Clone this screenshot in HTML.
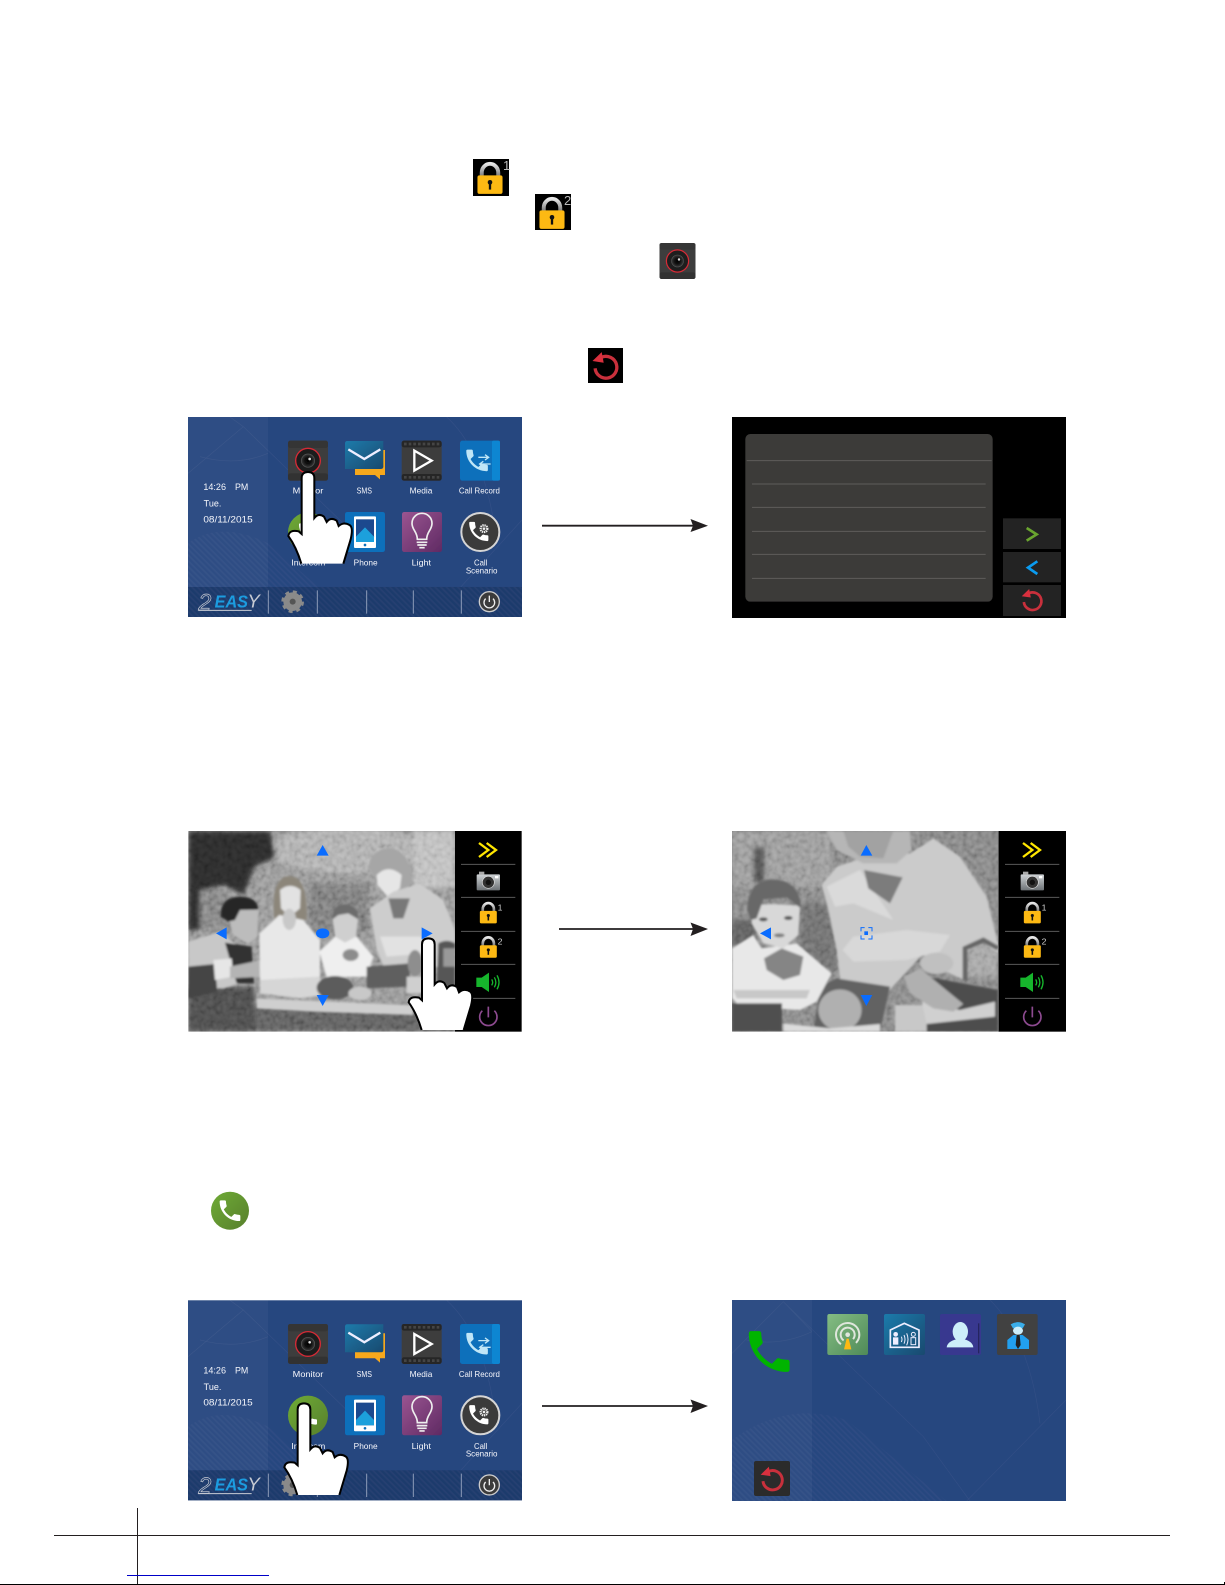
<!DOCTYPE html>
<html><head><meta charset="utf-8"><style>html,body{margin:0;padding:0;background:#fff}svg{display:block}text{font-family:"Liberation Sans",sans-serif}</style></head><body>
<svg width="1225" height="1585" viewBox="0 0 1225 1585">
<defs>
<linearGradient id="shk" x1="0" y1="0" x2="0" y2="1"><stop offset="0" stop-color="#e8e8e8"/><stop offset="1" stop-color="#707070"/></linearGradient>
<linearGradient id="grn" x1="0" y1="0" x2="1" y2="1"><stop offset="0" stop-color="#6fab36"/><stop offset="1" stop-color="#577f2c"/></linearGradient>
<linearGradient id="cm" x1="0" y1="0" x2="0" y2="1"><stop offset="0" stop-color="#cfd3d6"/><stop offset="1" stop-color="#6d7276"/></linearGradient>
<linearGradient id="tl" x1="0" y1="0" x2="1" y2="1"><stop offset="0" stop-color="#1b7bab"/><stop offset="1" stop-color="#19496f"/></linearGradient>
<linearGradient id="pu" x1="0" y1="0" x2="1" y2="1"><stop offset="0" stop-color="#9a5591"/><stop offset="1" stop-color="#5f2a63"/></linearGradient>
<linearGradient id="gr2" x1="0" y1="0" x2="1" y2="1"><stop offset="0" stop-color="#84bd83"/><stop offset="1" stop-color="#4f8a58"/></linearGradient>
<radialGradient id="lens"><stop offset="0" stop-color="#000"/><stop offset=".5" stop-color="#111"/><stop offset="1" stop-color="#3a3a3a"/></radialGradient>
<pattern id="hatch" width="12" height="12" patternUnits="userSpaceOnUse" patternTransform="rotate(45)"><rect width="12" height="5" fill="#fff" opacity=".03"/></pattern>
<filter id="b" x="-5%" y="-5%" width="110%" height="110%"><feGaussianBlur stdDeviation="7"/></filter>
<filter id="p" x="-2%" y="-2%" width="104%" height="104%"><feGaussianBlur stdDeviation="3.500"/></filter>
<filter id="s" x="-2%" y="-2%" width="104%" height="104%"><feGaussianBlur stdDeviation="1"/></filter>
<filter id="n" x="0" y="0" width="100%" height="100%"><feTurbulence type="fractalNoise" baseFrequency=".07" numOctaves="2" seed="4"/><feColorMatrix values="1.4 0 0 0 -.2 1.4 0 0 0 -.2 1.4 0 0 0 -.2 0 0 0 0 1"/><feGaussianBlur stdDeviation="2.500"/></filter>
<clipPath id="c3"><rect x="25" y="33" width="800" height="602"/></clipPath>
<clipPath id="c4"><rect x="36" y="33" width="798" height="602"/></clipPath>

<path id="ph" d="M6.6 10.8c1.4 2.8 3.8 5.1 6.6 6.6l2.2-2.2c.3-.3.7-.4 1-.2 1.1.4 2.3.6 3.6.6.6 0 1 .4 1 1V20c0 .6-.4 1-1 1C10.6 21 3 13.4 3 4c0-.6.4-1 1-1h3.5c.6 0 1 .4 1 1 0 1.3.2 2.5.6 3.6.1.3 0 .7-.2 1z"/>

<g id="hand"><path d="M-20,275 Q-35,225 -59,192 Q-56,172 -28,178 L-19,186 L-19,18 Q-19,0 0,0 Q19,0 19,18 L19,138 Q32,122 48,134 L56,150 Q68,134 86,146 L92,162 Q108,148 126,160 Q136,168 128,202 L106,275" fill="#fff" stroke="#000" stroke-width="6"/></g>

<g id="lock"><path d="M-25,-8 V-22 A25,27 0 0 1 25,-22 V-8" fill="none" stroke="url(#shk)" stroke-width="12"/><rect x="-38" y="-14" width="76" height="56" rx="6" fill="#fdb913"/><circle cy="7" r="7" fill="#111"/><rect x="-3.500" y="7" width="7" height="22" fill="#111"/></g>

<g id="back"><path d="M-12,-30 A33,33 0 1 1 -33,4" fill="none" stroke="#c9303c" stroke-width="10"/><path d="M-41,-18 L-13,-45 L-7,-13 Z" fill="#d9303e"/></g>

<g id="cam"><rect x="-60" y="-60" width="120" height="120" rx="7" fill="#3d3d3d"/><rect x="-60" y="-60" width="120" height="22" rx="7" fill="#363636"/><rect x="-60" y="38" width="120" height="22" rx="7" fill="#323232"/><circle r="37" fill="#1e1e1e" stroke="#d62a36" stroke-width="4"/><circle r="20" fill="url(#lens)" stroke="#555" stroke-width="2"/><circle cx="5" cy="-5" r="4" fill="#ddd"/></g>

<g id="menu"><g filter="url(#s)">
<rect x="24" y="21" width="1002" height="600" fill="#27467f"/>
<rect x="24" y="21" width="240" height="510" fill="#fff" opacity=".04"/>
<path d="M24,620 L24,400 Q120,330 264,400 L520,621 Z" fill="url(#hatch)"/>
<path d="M24,190 L190,50 L500,350 M190,50 L150,21 M60,140 Q170,170 264,130 M1026,330 L760,621 M800,21 Q920,130 950,400" fill="none" stroke="#fff" stroke-width="2" opacity=".06"/>
<rect x="24" y="531" width="1002" height="90" fill="#1e3a6c"/>
<rect x="24" y="531" width="1002" height="90" fill="url(#hatch)"/>
<g stroke="#8c9bb8" stroke-width="3"><path d="M265,541V611M412,541V611M560,541V611M700,541V611M844,541V611"/></g>
<g font-size="28" fill="#f4f6fb">
<text x="70" y="240" textLength="68" lengthAdjust="spacingAndGlyphs">14:26</text><text x="165" y="240" textLength="40" lengthAdjust="spacingAndGlyphs">PM</text>
<text x="71" y="290" textLength="53" lengthAdjust="spacingAndGlyphs">Tue.</text><text x="70" y="337" textLength="148" lengthAdjust="spacingAndGlyphs">08/11/2015</text></g>
<use href="#cam" x="384" y="152"/>
<path d="M525,120H615V195H600V208L585,195H525Z" fill="#f6a81c"/>
<path d="M495,100Q495,93 502,93H610V170Q610,177 603,177H495Z" fill="url(#tl)"/>
<path d="M505,118L553,147L601,118" fill="none" stroke="#eef" stroke-width="7"/>
<rect x="665" y="92" width="120" height="120" rx="7" fill="#3c3c3c"/><rect x="665" y="92" width="120" height="20" rx="7" fill="#262626"/><rect x="665" y="192" width="120" height="20" rx="7" fill="#262626"/>
<path d="M672,102H778M672,202H778" stroke="#444" stroke-width="8" stroke-dasharray="8 6"/>
<path d="M703,122L755,152L703,182Z" fill="none" stroke="#fff" stroke-width="7"/>
<rect x="840" y="92" width="120" height="120" rx="7" fill="#0a6fbb"/><rect x="936" y="92" width="24" height="120" rx="5" fill="#0b86d2"/>
<use href="#ph" fill="#bfe6f7" transform="translate(848,108) scale(3.6)"/>
<path d="M895,142H925M915,134L926,142L915,150M932,162H900M910,154L899,162L910,170" fill="none" stroke="#bfe6f7" stroke-width="4"/>
<circle cx="384" cy="367" r="60" fill="url(#grn)"/><use href="#ph" fill="#fff" transform="translate(348,331) scale(3)"/>
<rect x="495" y="306" width="120" height="120" rx="7" fill="#0a6fbb"/><rect x="522" y="319" width="66" height="95" rx="3" fill="#fff"/><rect x="528" y="328" width="54" height="68" fill="#1c4a8e"/><path d="M528,396V380L555,352L582,380V396Z" fill="#1aa0dc"/><circle cx="555" cy="405" r="4" fill="#0a6fbb"/>
<rect x="666" y="306" width="120" height="120" rx="7" fill="url(#pu)"/>
<path d="M712,388C712,365 696,360 696,340A30,30 0 0 1 756,340C756,360 740,365 740,388Z" fill="none" stroke="#eee" stroke-width="5"/><path d="M710,397H742M712,405H740M718,413H734" stroke="#eee" stroke-width="5"/>
<circle cx="901" cy="366" r="57" fill="#3a3a3a" stroke="#d5d5d5" stroke-width="6"/><use href="#ph" fill="#fff" transform="translate(858,326) scale(3.2)"/><circle cx="912" cy="356" r="10" fill="none" stroke="#eee" stroke-width="7" stroke-dasharray="4 2"/><circle cx="912" cy="356" r="4" fill="#eee"/>
<g fill="#f4f6fb" font-size="25" text-anchor="middle"><text x="384" y="251" textLength="92" lengthAdjust="spacingAndGlyphs">Monitor</text><text x="553" y="251" textLength="46" lengthAdjust="spacingAndGlyphs">SMS</text><text x="723" y="251" textLength="68" lengthAdjust="spacingAndGlyphs">Media</text><text x="898" y="251" textLength="123" lengthAdjust="spacingAndGlyphs">Call Record</text>
<text x="385" y="467" textLength="102" lengthAdjust="spacingAndGlyphs">Intercom</text><text x="557" y="467" textLength="72" lengthAdjust="spacingAndGlyphs">Phone</text><text x="724" y="467" textLength="58" lengthAdjust="spacingAndGlyphs">Light</text><text x="902" y="467" textLength="40" lengthAdjust="spacingAndGlyphs">Call</text><text x="905" y="490" textLength="95" lengthAdjust="spacingAndGlyphs">Scenario</text></g>
<text x="55" y="600" font-size="70" font-style="italic" fill="none" stroke="#c8ccd4" stroke-width="2">2</text>
<text x="104" y="592" font-size="54" font-style="italic" font-weight="bold" fill="#1b9ce0" textLength="100" lengthAdjust="spacingAndGlyphs">EAS</text>
<text x="202" y="592" font-size="56" font-style="italic" fill="#c8ccd4">Y</text>
<path d="M55,601H215" stroke="#c8ccd4" stroke-width="3"/>
<circle cx="338" cy="575" r="24" fill="#8a8a8a" stroke="#8a8a8a" stroke-width="8"/><circle cx="338" cy="575" r="30" fill="none" stroke="#8a8a8a" stroke-width="8" stroke-dasharray="12 11.500"/><circle cx="338" cy="575" r="9" fill="#555"/>
<circle cx="928" cy="575" r="30" fill="#3a3a3a" stroke="#ccc" stroke-width="4"/><path d="M917,566A16,16 0 1 0 939,566M928,557V576" fill="none" stroke="#eee" stroke-width="4"/>
</g></g>

<g id="panel">
<path d="M843,133H1006M843,232H1006M843,334H1006M843,433H1006M843,535H1006" stroke="#5a5a5a" stroke-width="3"/>
<path d="M897,69L925,90L897,111M920,69L948,90L920,111" fill="none" stroke="#ffe600" stroke-width="7"/>
<rect x="890" y="163" width="70" height="48" rx="3" fill="url(#cm)"/><rect x="897" y="155" width="16" height="9" fill="#aaa"/><circle cx="925" cy="187" r="18" fill="#333" stroke="#ddd" stroke-width="2"/><circle cx="925" cy="187" r="8" fill="#111"/><rect x="945" y="168" width="10" height="7" fill="#fff"/>
<use href="#lock" transform="translate(925,282) scale(.67)"/><text x="953" y="272" font-size="26" fill="#ccc">1</text>
<use href="#lock" transform="translate(925,385) scale(.67)"/><text x="953" y="374" font-size="26" fill="#ccc">2</text>
<path d="M889,473H905L927,458V516L905,501H889Z" fill="#16b52c"/><path d="M935,478Q941,487 935,496M943,472Q952,487 943,502M951,466Q963,487 951,508" fill="none" stroke="#16b52c" stroke-width="4"/>
<path d="M907,572A26,26 0 1 0 943,572M925,560V592" fill="none" stroke="#8d4a90" stroke-width="5"/>
</g>
</defs>

<!-- top inline icons -->
<rect x="473" y="159" width="36" height="37" fill="#000"/><use href="#lock" transform="translate(490,180) scale(.33)"/>
<text x="503" y="170" font-size="13" fill="#bbb">1</text>
<rect x="535" y="194" width="36" height="36" fill="#000"/><use href="#lock" transform="translate(552,215) scale(.33)"/>
<text x="564" y="205" font-size="13" fill="#bbb">2</text>
<use href="#cam" transform="translate(677.500,261) scale(.3)"/>
<rect x="588" y="348" width="35" height="35" fill="#000"/><use href="#back" transform="translate(606,367) scale(.33)"/>

<!-- Screen 1 -->
<g transform="translate(180,410) scale(.33333)"><use href="#menu"/><use href="#hand" x="384" y="186"/></g>

<!-- Screen 2 -->
<g transform="translate(720,410) scale(.33333)">
<rect x="36" y="21" width="1002" height="603" fill="#000"/>
<rect x="76" y="72" width="742" height="503" rx="15" fill="#3c3b39"/>
<path d="M80,152H815M96,222H797M96,292H797M96,364H797M96,433H797M96,505H797" stroke="#5e5d5b" stroke-width="3"/>
<rect x="849" y="325" width="174" height="92" fill="#232323"/><rect x="849" y="426" width="174" height="91" fill="#232323"/><rect x="849" y="525" width="174" height="93" fill="#232323"/>
<path d="M920,354L950,373L920,392" fill="none" stroke="#6aa52f" stroke-width="8"/>
<path d="M952,454L924,473L952,492" fill="none" stroke="#0a9bf0" stroke-width="8"/>
<use href="#back" transform="translate(938,573) scale(.8)"/>
</g>

<!-- Arrows -->
<g fill="#231f20"><path d="M542,525.700H695" stroke="#231f20" stroke-width="1.800"/><path d="M690.500,519L708,525.700L690.500,532L693,525.700Z"/>
<path d="M559,929H695" stroke="#231f20" stroke-width="1.800"/><path d="M690.500,922.500L708,929L690.500,936L693,929Z"/>
<path d="M542,1406H695" stroke="#231f20" stroke-width="1.800"/><path d="M690.500,1399.500L708,1406L690.500,1413L693,1406Z"/></g>

<!-- Screen 3 -->
<g transform="translate(180,820) scale(.33333)">
<rect x="825" y="33" width="200" height="602" fill="#000"/>
<g clip-path="url(#c3)"><g style="isolation:isolate">
<rect x="25" y="33" width="800" height="602" fill="#8e8e8e"/>
<g filter="url(#b)">
<ellipse cx="500" cy="90" rx="230" ry="70" fill="#a8a8a8"/><rect x="700" y="33" width="125" height="170" fill="#b8b8b8"/>
<path d="M25,33H270L290,110L225,140L190,225L130,195L75,210L60,330L25,330Z" fill="#2c2c2c"/>
<rect x="60" y="210" width="90" height="120" fill="#7a7a7a"/><rect x="385" y="190" width="180" height="150" fill="#747474"/>
<rect x="25" y="555" width="800" height="80" fill="#5a5a5a"/><rect x="25" y="500" width="200" height="135" fill="#484848"/>
</g>
<rect x="25" y="33" width="800" height="602" filter="url(#n)" opacity=".32" style="mix-blend-mode:overlay"/>
<g filter="url(#p)">
<path d="M230,535L700,555V585L400,575L230,565Z" fill="#cfcfcf"/>
<path d="M25,365L120,335L170,375L210,480L130,505L25,505Z" fill="#c8c8c8"/><path d="M135,368L215,380L222,490L170,490Z" fill="#333"/>
<path d="M25,440L105,432L112,515L25,535Z" fill="#444"/>
<path d="M100,420L155,415L160,470L105,480Z" fill="#e6e6e6"/><path d="M150,440L245,420L305,418L305,465L250,470L150,475Z" fill="#b4b4b4"/>
<path d="M140,270L235,270L232,350L205,372L160,345Z" fill="#bcbcbc"/><path d="M122,290Q120,232 178,230Q232,230 235,268L180,270L165,300L145,305Z" fill="#262626"/>
<path d="M283,300Q270,170 330,168Q385,172 380,300Z" fill="#8c867a"/><path d="M300,210Q330,185 362,210L360,265L330,290L303,265Z" fill="#e2e2e2"/>
<path d="M238,340L298,285L370,300L420,360L420,470L390,500L330,530L240,490Z" fill="#e8e8e8"/><path d="M240,480L420,470L430,525L360,535L240,520Z" fill="#d6d6d6"/>
<ellipse cx="328" cy="298" rx="20" ry="32" fill="#c8c8c8"/>
<path d="M418,395L470,345L530,350L580,410L560,470L440,472Z" fill="#efefef"/><path d="M457,295Q495,250 535,295L528,350L495,368L465,350Z" fill="#cfcfcf"/><path d="M455,300Q458,252 495,253Q535,255 535,298L505,280L475,285Z" fill="#6c6c6c"/><ellipse cx="512" cy="405" rx="24" ry="18" fill="#8c8c8c"/>
<path d="M565,145Q575,82 635,85Q690,95 698,190L660,215L600,190Z" fill="#a6a6a6"/><path d="M590,165Q625,130 665,165L660,205L625,232L592,195Z" fill="#e6e6e6"/>
<path d="M570,265L640,215L720,190L790,240L825,330V425L770,440L700,440L690,470L620,460L590,390Z" fill="#cdcdcd"/>
<path d="M625,235L690,235L670,295H640Z" fill="#787878"/><path d="M600,350L720,350L760,360L740,400L620,410Z" fill="#e2e2e2"/>
<path d="M560,440L690,430L690,500L560,505Z" fill="#5e5e5e"/><ellipse cx="465" cy="503" rx="55" ry="35" fill="#5c5c5c"/><ellipse cx="540" cy="520" rx="35" ry="20" fill="#c8c8c8"/>
<path d="M775,370Q800,355 825,370V500L770,510Z" fill="#565656"/><path d="M790,385H825V440H790Z" fill="#999"/><rect x="680" y="470" width="50" height="50" fill="#cfcfcf"/><ellipse cx="705" cy="430" rx="22" ry="40" fill="#8e8e8e"/>
</g></g></g>
<g fill="#0a6cff"><path d="M428,75L410,107H446Z"/><path d="M108,340L140,322V358Z"/><path d="M725,322V358L758,340Z"/><path d="M410,525H446L428,558Z"/><ellipse cx="428" cy="340" rx="20" ry="15"/></g>
<use href="#panel"/>
<use href="#hand" x="745" y="355"/>
</g>

<!-- Screen 4 -->
<g transform="translate(720,820) scale(.33333)">
<rect x="835" y="33" width="203" height="602" fill="#000"/>
<g clip-path="url(#c4)"><g style="isolation:isolate">
<rect x="36" y="33" width="798" height="602" fill="#808080"/>
<g filter="url(#b)">
<rect x="36" y="33" width="300" height="170" fill="#949494"/><rect x="600" y="33" width="234" height="130" fill="#7e7e7e"/>
<rect x="100" y="80" width="35" height="110" fill="#505050"/>
<rect x="36" y="300" width="70" height="80" fill="#5c5c5c"/><rect x="240" y="250" width="110" height="200" fill="#6a6a6a"/>
<rect x="740" y="370" width="94" height="100" fill="#9e9e9e"/>
</g>
<rect x="36" y="33" width="798" height="602" filter="url(#n)" opacity=".28" style="mix-blend-mode:overlay"/>
<g filter="url(#p)">
<path d="M305,195L350,140L440,110L570,100L640,55L720,110L800,230L834,370V400L780,360L735,400V480L640,440L610,400L500,520L360,480L350,390L320,250Z" fill="#cbcbcb"/>
<path d="M320,200L420,150L520,300L400,250L345,260Z" fill="#dadada"/>
<path d="M320,33H570L575,90L530,130L430,130L350,90Z" fill="#b6b6b6"/><path d="M370,33H520L490,115L420,110L385,80Z" fill="#a2a2a2"/>
<path d="M432,150L548,172L510,250L445,205Z" fill="#7c7c7c"/>
<path d="M368,390L400,350L560,330L690,345L660,395L560,420L400,425Z" fill="#d8d8d8"/>
<path d="M300,500L350,475L510,500L480,635H280Z" fill="#626262"/><ellipse cx="360" cy="570" rx="65" ry="62" fill="#b0b0b0"/>
<path d="M36,385L100,345L125,385L230,370L335,460L290,545L240,570L60,560L36,535Z" fill="#e8e8e8"/><path d="M40,510L270,510L260,535L50,535Z" fill="#c8c8c8"/>
<path d="M95,262Q120,245 240,258L235,345L190,385L130,370L95,310Z" fill="#d8d8d8"/><path d="M82,270Q85,178 160,178Q240,182 243,265L200,232L130,238L110,295L92,300Z" fill="#686868"/>
<ellipse cx="130" cy="298" rx="13" ry="6" fill="#555"/><ellipse cx="205" cy="294" rx="13" ry="6" fill="#555"/><ellipse cx="178" cy="346" rx="16" ry="6" fill="#7e7e7e"/>
<path d="M132,415L185,385L250,410L240,465L190,480L140,450Z" fill="#858585"/>
<rect x="36" y="550" width="150" height="85" fill="#505050"/><path d="M190,610L330,625L480,612V635H190Z" fill="#dcdcdc"/>
<rect x="525" y="555" width="98" height="80" fill="#c8c8c8"/>
<path d="M620,470L834,510V635H620Z" fill="#4e4e4e"/><path d="M605,545L720,570L825,545V590L620,612Z" fill="#d0d0d0"/>
<path d="M552,470L600,445L730,552L700,575L640,565L570,520Z" fill="#b0b0b0"/><ellipse cx="650" cy="430" rx="50" ry="32" fill="#c0c0c0"/>
<path d="M735,480V385L790,360L834,385" fill="none" stroke="#666" stroke-width="14"/>
</g></g></g>
<g fill="#0a6cff"><path d="M439,75L422,107H457Z"/><path d="M120,340L153,322V358Z"/><path d="M422,525H457L439,558Z"/><rect x="433" y="334" width="11" height="11"/></g>
<path d="M423,334V323H434M445,323H456V334M456,346V357H445M434,357H423V346" fill="none" stroke="#0a6cff" stroke-width="3"/>
<use href="#panel" transform="translate(12,0)"/>
</g>

<!-- Intercom call icon -->
<circle cx="230" cy="1210.700" r="19" fill="url(#grn)"/><use href="#ph" fill="#fff" transform="translate(216.200,1196.900) scale(1.150)"/>

<!-- Screen 5 -->
<g transform="translate(180,1293.300) scale(.33333)"><use href="#menu"/></g>
<g transform="translate(180,1290) scale(.33333)"><use href="#hand" x="372" y="340"/></g>
<rect x="188" y="1500.500" width="340" height="6" fill="#fff"/>

<!-- Screen 6 -->
<g transform="translate(720,1290) scale(.33333)">
<g filter="url(#s)">
<rect x="36" y="30" width="1002" height="603" fill="#27467f"/>
<rect x="36" y="30" width="240" height="603" fill="#fff" opacity=".04"/>
<path d="M36,633V450Q200,330 380,390L680,633Z" fill="url(#hatch)"/>
<path d="M36,190L190,35L610,440L750,633M190,35L276,125M80,150Q180,170 276,125M1038,330L740,633M810,30Q930,150 960,400" fill="none" stroke="#fff" stroke-width="2" opacity=".05"/>
</g>
<use href="#ph" fill="#00b400" transform="translate(66,103) scale(6.800)"/>
<rect x="322" y="72" width="122" height="123" rx="6" fill="url(#gr2)"/>
<circle cx="383" cy="134" r="35" fill="none" stroke="#dfe6dc" stroke-width="6" stroke-dasharray="170 50" transform="rotate(125 383 134)"/><circle cx="383" cy="134" r="21" fill="none" stroke="#dfe6dc" stroke-width="6" stroke-dasharray="100 32" transform="rotate(125 383 134)"/><circle cx="383" cy="134" r="7" fill="#dfe6dc"/><path d="M372,178L380,146H386L394,178Z" fill="#fdb913"/>
<rect x="492" y="72" width="123" height="123" rx="6" fill="url(#tl)"/>
<path d="M511,120L553,100L597,120V172H511Z" fill="none" stroke="#eef" stroke-width="5"/><circle cx="527" cy="133" r="7" fill="#eef"/><rect x="519" y="142" width="16" height="22" fill="#eef"/><circle cx="580" cy="133" r="6" fill="none" stroke="#eef" stroke-width="3"/><rect x="573" y="143" width="14" height="21" fill="none" stroke="#eef" stroke-width="3"/><path d="M544,140Q548,148 544,156M552,135Q558,148 552,161M560,130Q568,148 560,166" fill="none" stroke="#eef" stroke-width="3"/>
<rect x="660" y="72" width="123" height="123" rx="6" fill="#38388f"/>
<ellipse cx="721" cy="125" rx="23" ry="29" fill="#cdeefa"/><path d="M680,172Q682,155 708,148H734Q758,155 760,172Z" fill="#cdeefa"/><path d="M776,100V190" stroke="#252560" stroke-width="4"/>
<rect x="831" y="72" width="122" height="123" rx="6" fill="#414141"/>
<path d="M872,103Q893,90 915,103L908,115H879Z" fill="#3aaeea"/><ellipse cx="894" cy="122" rx="15" ry="12" fill="#cdeefa"/><path d="M862,150L880,135H908L927,150V177H862Z" fill="#22a0ef"/><path d="M890,135H899L902,165L894,177L887,165Z" fill="#222"/>
<rect x="102" y="513" width="108" height="105" rx="6" fill="#2b2b2b"/>
<use href="#back" transform="translate(158,570) scale(.88)"/>
</g>

<!-- Footer rules -->
<path d="M54,1535.500H1170" stroke="#231f20" stroke-width="1"/>
<path d="M137.500,1508V1585" stroke="#231f20" stroke-width="1"/>
<path d="M127,1575.500H269" stroke="#0000c8" stroke-width="1"/>
<path d="M0,1584.500H1224" stroke="#000" stroke-width="1"/>
<path d="M1224.500,1582V1585" stroke="#000" stroke-width="1"/>
</svg>
</body></html>
